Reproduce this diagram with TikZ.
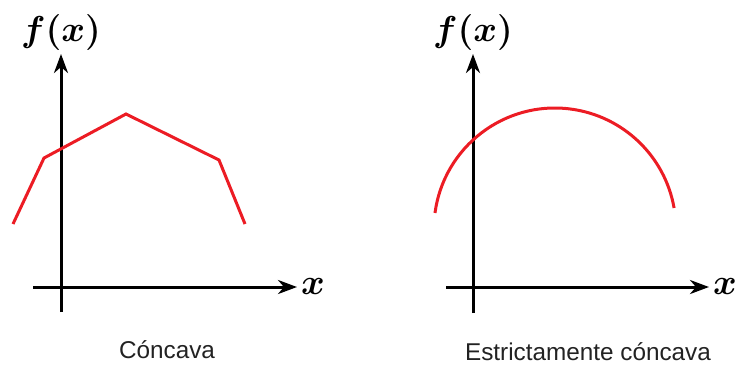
\RequirePackage{fix-cm}
\documentclass[tikz,border=0pt]{standalone}
\usepackage{fontspec}
\setmainfont{Liberation Sans}
\usetikzlibrary{arrows.meta}
\definecolor{cred}{RGB}{236,28,36}
\definecolor{ctext}{RGB}{34,34,34}
\tikzset{concplot/.style={x=1pt,y=-1pt}}
\tikzset{axis/.style={black,line width=3pt,-{Stealth[length=19pt,width=14pt,inset=6pt]}},
         fcurve/.style={cred,line width=3pt,line join=miter},
         mathlbl/.style={inner sep=0pt,font=\fontsize{36}{36}\selectfont\boldmath},
         caplbl/.style={inner sep=0pt,ctext,font=\fontsize{24.3}{27}\selectfont}}

\begin{document}
\begin{tikzpicture}[concplot]
    \useasboundingbox (0,0) rectangle (738,368);
    % left: concave (piecewise linear)
    \coordinate (xs1) at (33,287);
    \coordinate (xe1) at (297,287);
    \coordinate (ys1) at (61,312);
    \coordinate (ye1) at (61,54);
    \draw[axis] (xs1) -- (xe1);
    \draw[axis] (ys1) -- (ye1);
    \draw[fcurve] (13,224) -- (44,158) -- (126,114) -- (219,160) -- (245,224);
    \node[mathlbl] (fx1) at (61,32) {$f(x)$};
    \node[mathlbl] (x1)  at (313,286) {$x$};
    \node[caplbl]  (cap1) at (167,350) {Cóncava};
    % right: strictly concave (arc)
    \coordinate (xs2) at (446,287);
    \coordinate (xe2) at (709,287);
    \coordinate (ys2) at (473,313);
    \coordinate (ye2) at (473,54);
    \draw[axis] (xs2) -- (xe2);
    \draw[axis] (ys2) -- (ye2);
    \draw[fcurve] (435,213) arc[start angle=-172.4, end angle=-10, radius=121];
    \node[mathlbl] (fx2) at (473,32) {$f(x)$};
    \node[mathlbl] (x2)  at (725,286) {$x$};
    \node[caplbl]  (cap2) at (588,352) {Estrictamente cóncava};
\end{tikzpicture}
\end{document}
